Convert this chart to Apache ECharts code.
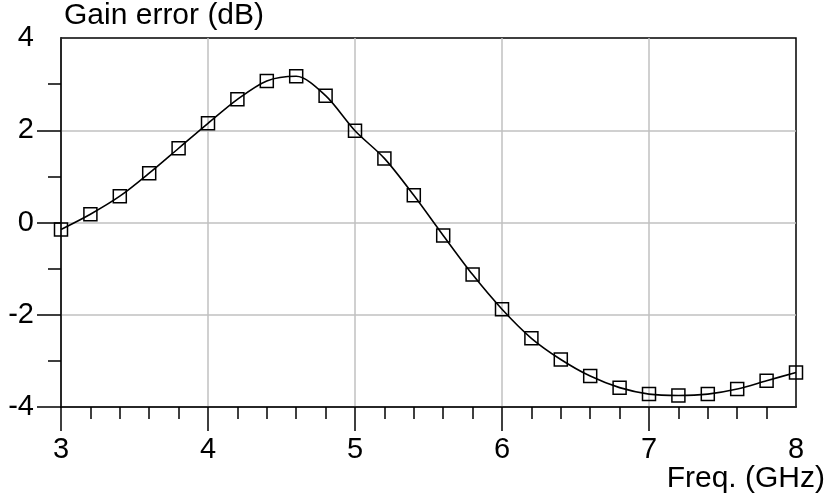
<!DOCTYPE html>
<html>
<head>
<meta charset="utf-8">
<script src="https://cdn.jsdelivr.net/npm/echarts@6/dist/echarts.min.js"></script>
<style>
  html, body { margin: 0; padding: 0; background: #fff; }
  #chart { width: 827px; height: 502px; }
</style>
</head>
<body>
<div id="chart"></div>
<script>
// Frequency sweep (GHz) and measured gain error (dB)
const freqGHz = [3.0, 3.2, 3.4, 3.6, 3.8, 4.0, 4.2, 4.4, 4.6, 4.8,
                 5.0, 5.2, 5.4, 5.6, 5.8, 6.0, 6.2, 6.4, 6.6, 6.8,
                 7.0, 7.2, 7.4, 7.6, 7.8, 8.0];
const gainErrorDb = [-0.15, 0.18, 0.57, 1.07, 1.61, 2.15, 2.67, 3.07, 3.17, 2.75,
                     1.99, 1.39, 0.59, -0.28, -1.13, -1.88, -2.51, -2.97, -3.33, -3.58,
                     -3.72, -3.75, -3.72, -3.61, -3.43, -3.25];
const xTicks = [3, 4, 5, 6, 7, 8];
const yTicks = [-4, -2, 0, 2, 4];
const yTitle = 'Gain error (dB)';
const xTitle = 'Freq. (GHz)';

const FONT = '"Liberation Sans", Arial, sans-serif';
const chart = echarts.init(document.getElementById('chart'), null, { renderer: 'canvas' });

// major ticks are drawn at every labelled value except the far end of each axis
const xMajorTicks = xTicks.slice(0, -1);
const yMajorTicks = yTicks.slice(0, -1);

chart.setOption({
  animation: false,
  backgroundColor: '#fff',
  grid: {
    left: 61, right: 31, top: 38, bottom: 95,
    show: true, borderColor: '#000', borderWidth: 1.5
  },
  xAxis: {
    type: 'value',
    min: xTicks[0], max: xTicks[xTicks.length - 1], interval: 1,
    axisLine: { show: true, onZero: false, lineStyle: { color: '#000', width: 1.5 } },
    axisTick: { show: true, inside: false, length: 24, customValues: xMajorTicks,
                lineStyle: { color: '#000', width: 1.5 } },
    minorTick: { show: true, splitNumber: 5, length: 12, lineStyle: { color: '#000', width: 1.5 } },
    splitLine: { show: true, lineStyle: { color: '#c0c0c0', width: 1.5 } },
    axisLabel: { color: '#000', fontSize: 29, fontFamily: FONT, margin: 28 }
  },
  yAxis: {
    type: 'value',
    min: yTicks[0], max: yTicks[yTicks.length - 1], interval: 2,
    axisLine: { show: true, onZero: false, lineStyle: { color: '#000', width: 1.5 } },
    axisTick: { show: true, inside: false, length: 24, customValues: yMajorTicks,
                lineStyle: { color: '#000', width: 1.5 } },
    minorTick: { show: true, splitNumber: 2, length: 13, lineStyle: { color: '#000', width: 1.5 } },
    splitLine: { show: true, lineStyle: { color: '#c0c0c0', width: 1.5 } },
    axisLabel: { color: '#000', fontSize: 29, fontFamily: FONT, margin: 27 }
  },
  graphic: [
    { type: 'text', left: 64, top: 1,
      style: { text: yTitle, fill: '#000', font: '30px ' + FONT } },
    { type: 'text', right: 2, top: 464,
      style: { text: xTitle, fill: '#000', font: '30px ' + FONT } }
  ],
  series: [{
    type: 'line',
    data: freqGHz.map((f, i) => [f, gainErrorDb[i]]),
    smooth: 0.3,
    symbol: 'rect',
    symbolSize: 13,
    showAllSymbol: true,
    lineStyle: { color: '#000', width: 1.6 },
    itemStyle: { color: 'rgba(255,255,255,0)', borderColor: '#000', borderWidth: 1.5 },
    z: 3
  }]
});
</script>
</body>
</html>
